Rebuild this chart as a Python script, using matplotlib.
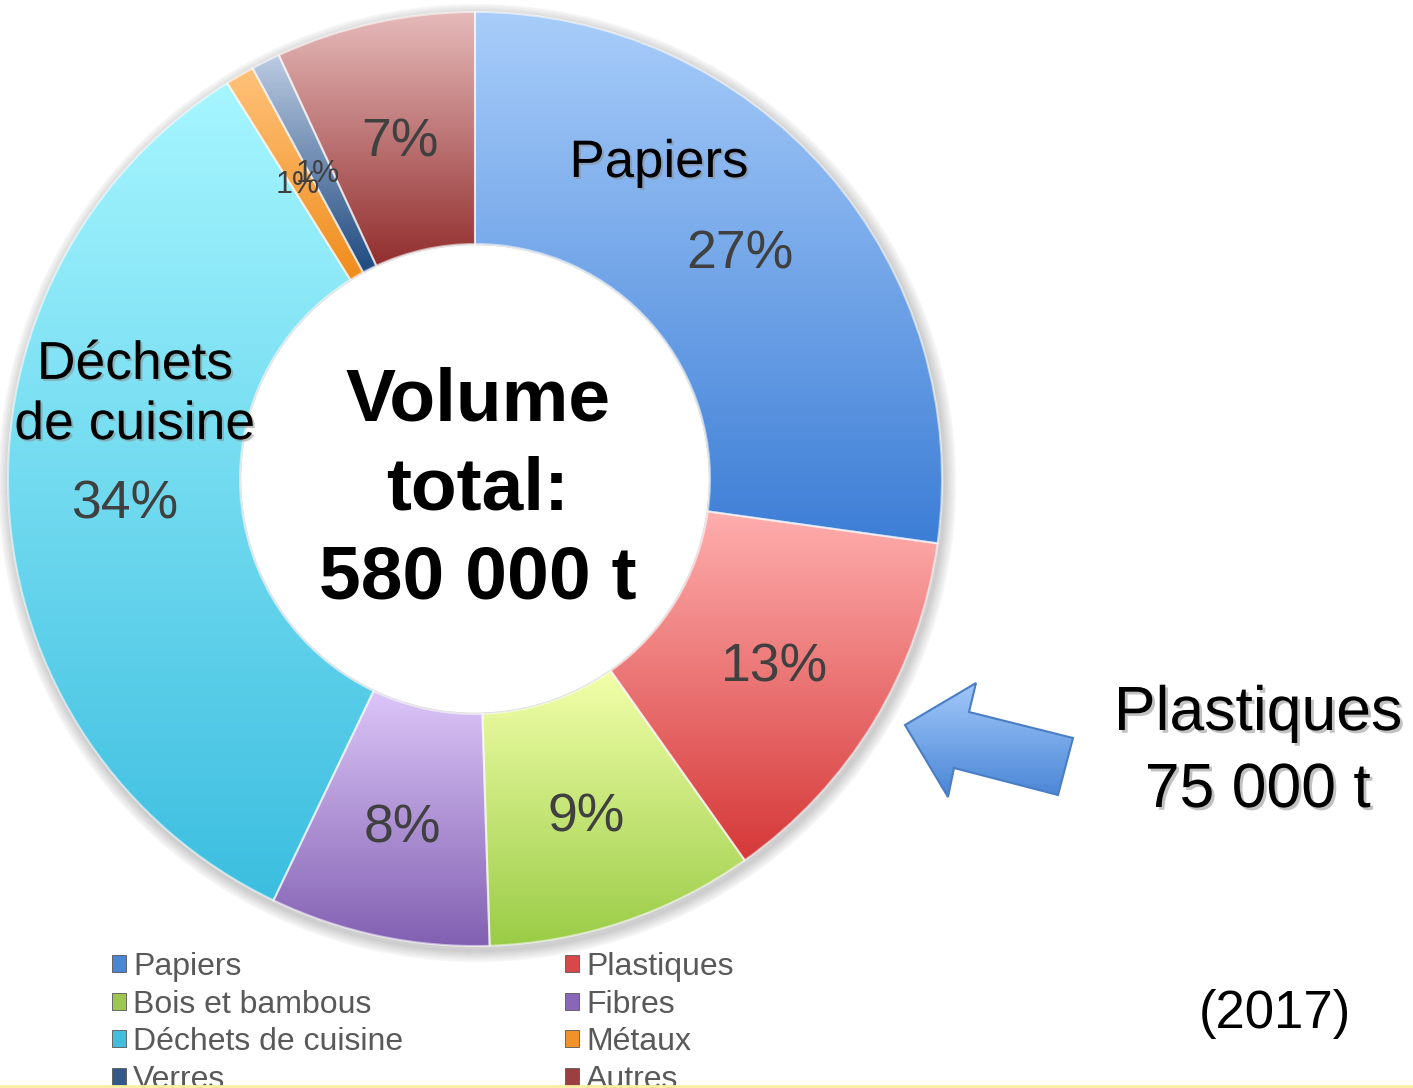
import numpy as np
import matplotlib
matplotlib.use("Agg")
import matplotlib.pyplot as plt
import matplotlib.patheffects as pe
from matplotlib.patches import Polygon, Patch
from matplotlib.colors import to_rgb

plt.rcParams['font.family'] = ['Liberation Sans', 'DejaVu Sans']

# ---- data ----
categories = ["Papiers", "Plastiques", "Bois et bambous", "Fibres",
              "Déchets de cuisine", "Métaux", "Verres", "Autres"]
shares = [27.2, 13.0, 9.3, 7.6, 34.0, 1.0, 1.0, 6.9]
top_colors = ["#a8cdfa", "#ffaeae", "#f2ffaa", "#dcc6f8",
              "#a6f6ff", "#ffc27a", "#bccbe2", "#e6baba"]
bottom_colors = ["#3d7ed6", "#d63838", "#9acc46", "#8260b2",
                 "#3cbee0", "#f08c1c", "#1f4a80", "#922e2e"]
legend_colors = ["#4a86d4", "#d84848", "#9cc850", "#8a66b8",
                 "#44bcdc", "#f0922a", "#34588a", "#9a4040"]
center_text = "Volume\ntotal:\n580 000 t"
callout_name = "Plastiques"
callout_value = "75 000 t"
year_text = "(2017)"

W, H = 1413, 1088
fig = plt.figure(figsize=(W / 100, H / 100), dpi=100)
ax = fig.add_axes([0, 0, 1, 1])

cx, cy, R, r_in = 475, H - 479, 467, 235

def Y(y):
    return H - y

# soft shadow behind donut
for k in range(8):
    sh = plt.Circle((cx + 2, cy - 4), R + 1 + k * 1.5, color='black',
                    alpha=0.025, zorder=0)
    ax.add_patch(sh)
ax.add_patch(plt.Circle((cx, cy), r_in - 2, color='white', zorder=0.5))

wedges, texts, autotexts = ax.pie(
    shares, startangle=90, counterclock=False, center=(cx, cy), radius=R,
    autopct='%.0f%%', pctdistance=(R + r_in) / 2 / R,
    wedgeprops=dict(width=R - r_in, edgecolor=(1, 1, 1, 0.55), linewidth=1.5),
    textprops=dict(fontsize=38.5, color='#404040'))

def gradient_fill(patch, c_top, c_bot, extent=None, zorder=1):
    if extent is None:
        bb = patch.get_path().get_extents(patch.get_patch_transform())
        extent = [bb.x0, bb.x1, bb.y0, bb.y1]
    t = np.linspace(0, 1, 256)[:, None]
    a, b = np.array(to_rgb(c_top)), np.array(to_rgb(c_bot))
    img = (a[None, :] * (1 - t) + b[None, :] * t)[:, None, :]
    im = ax.imshow(img, extent=extent, origin='upper', aspect='auto',
                   interpolation='bicubic', zorder=zorder)
    im.set_clip_path(patch)
    return im

for w, ct, cb in zip(wedges, top_colors, bottom_colors):
    w.set_zorder(2)
    gradient_fill(w, ct, cb, zorder=1.5)
    w.set_facecolor('none')

for t in autotexts:
    t.set_zorder(5)
    x, y = t.get_position()
    t.set_position((x, y - 6))
# small labels for the 1% slices
for i in (5, 6):
    autotexts[i].set_fontsize(22)
    x, y = autotexts[i].get_position()
    autotexts[i].set_position((x, y - 3))

shadow = [pe.SimplePatchShadow(offset=(1.5, -1.5), shadow_rgbFace='#888888', alpha=0.5), pe.Normal()]

ax.text(659, Y(163), categories[0], fontsize=38, color='black',
        ha='center', va='center', zorder=5, path_effects=shadow)
ax.text(135, Y(395), "Déchets\nde cuisine", fontsize=38.5, color='black',
        ha='center', va='center', linespacing=1.26, zorder=5, path_effects=shadow)

ax.text(478, Y(490), center_text, fontsize=54, fontweight='bold',
        color='black', ha='center', va='center', linespacing=1.37, zorder=5)

# callout arrow
arrow_pts = [(905, 725), (976, 683), (969, 712), (1073, 738),
             (1058, 795), (954, 768), (948, 797)]
arrow = Polygon([(x, Y(y)) for x, y in arrow_pts], closed=True,
                facecolor='none', edgecolor='#4a7ec4', linewidth=1.5, zorder=4)
ax.add_patch(arrow)
gradient_fill(arrow, "#a2c8fa", "#4a86d6", extent=[905, 1073, Y(797), Y(683)], zorder=3.5)

shadow2 = [pe.SimplePatchShadow(offset=(2, -2), shadow_rgbFace='#777777', alpha=0.45), pe.Normal()]
ax.text(1258, Y(730), callout_name, fontsize=45, ha='center', va='baseline',
        color='black', zorder=5, path_effects=shadow2)
ax.text(1258, Y(807), callout_value, fontsize=45, ha='center', va='baseline',
        color='black', zorder=5, path_effects=shadow2)

ax.text(1275, Y(1014), year_text, fontsize=38, ha='center', va='center',
        color='black', zorder=5)

# legend (row-wise order, two columns)
handles = [Patch(facecolor=c, edgecolor='#555555', linewidth=0.6) for c in legend_colors]
order = [0, 2, 4, 6, 1, 3, 5, 7]
leg = ax.legend([handles[i] for i in order], [categories[i] for i in order],
                ncol=2, loc='upper left', bbox_to_anchor=(112 / W, 1 - 952 / H),
                frameon=False, fontsize=23, handlelength=0.44, handleheight=0.44,
                handletextpad=0.22, labelspacing=0.235, columnspacing=5.06,
                borderaxespad=0, borderpad=0)
for t in leg.get_texts():
    t.set_color('#595959')

ax.axhline(2, color='#f7eea0', linewidth=2, zorder=6)

ax.set_xlim(0, W)
ax.set_ylim(0, H)
ax.set_aspect('equal')
ax.axis('off')
fig.savefig("out.png", dpi=100)
